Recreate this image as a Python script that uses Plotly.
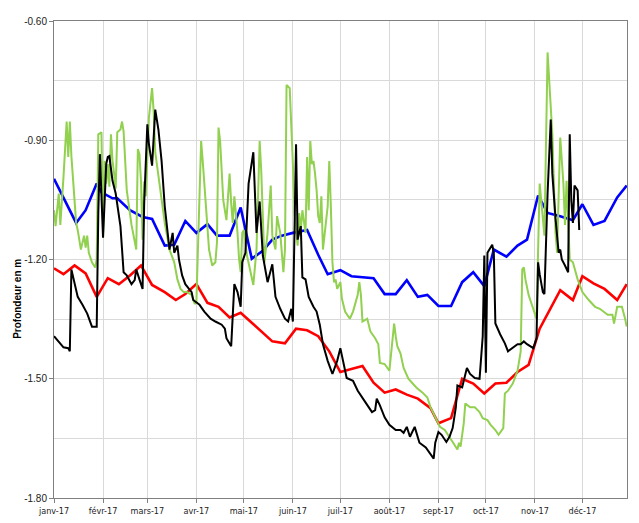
import pandas as pd
import plotly.graph_objects as go

BASE = pd.Timestamp("2017-01-01")

month_ticks = pd.date_range("2017-01-01", "2017-12-01", freq="MS")
month_labels = ["janv-17", "févr-17", "mars-17", "avr-17", "mai-17", "juin-17",
                "juil-17", "août-17", "sept-17", "oct-17", "nov-17", "déc-17"]

y_ticks = [-1.80, -1.50, -1.20, -0.90, -0.60]
y_tick_labels = ["-1.80", "-1.50", "-1.20", "-0.90", "-0.60"]
y_minor = [-1.65, -1.35, -1.05, -0.75]

# days since 1 Jan 2017, depth in m
blue_days = [0, 14, 20, 27, 30, 37, 40, 48, 56, 62, 70, 76, 83, 90, 97, 103, 111, 118, 125, 132,
             138, 144, 151, 160, 167, 173, 181, 188, 202, 209, 216, 223, 230, 236, 243, 251, 258,
             265, 272, 278, 286, 293, 299, 306, 312, 320, 328, 334, 341, 348, 356, 362]
blue_depth = [-0.997, -1.108, -1.076, -1.009, -1.031, -1.046, -1.046, -1.076, -1.093, -1.098,
              -1.165, -1.163, -1.103, -1.133, -1.111, -1.140, -1.140, -1.069, -1.198, -1.178,
              -1.150, -1.140, -1.133, -1.126, -1.188, -1.237, -1.227, -1.242, -1.247, -1.287,
              -1.287, -1.252, -1.294, -1.289, -1.317, -1.317, -1.257, -1.232, -1.267, -1.175,
              -1.193, -1.165, -1.150, -1.039, -1.083, -1.091, -1.101, -1.061, -1.113, -1.103,
              -1.044, -1.014]

red_days = [0, 6, 13, 20, 27, 34, 41, 48, 55, 62, 70, 77, 83, 90, 97, 104, 111, 118, 125, 138,
            146, 153, 160, 167, 174, 181, 195, 202, 209, 216, 223, 230, 238, 243, 251, 258, 265,
            272, 279, 286, 293, 300, 307, 320, 328, 334, 341, 348, 356, 362]
red_depth = [-1.222, -1.237, -1.215, -1.235, -1.294, -1.247, -1.262, -1.240, -1.215, -1.264,
             -1.282, -1.302, -1.287, -1.262, -1.309, -1.319, -1.346, -1.334, -1.359, -1.406,
             -1.411, -1.374, -1.378, -1.393, -1.431, -1.483, -1.468, -1.510, -1.535, -1.527,
             -1.540, -1.550, -1.574, -1.612, -1.599, -1.500, -1.512, -1.537, -1.512, -1.510,
             -1.483, -1.465, -1.374, -1.277, -1.302, -1.242, -1.260, -1.274, -1.302, -1.262]

black_days = [0, 3, 4, 6, 9, 10, 11, 13, 15, 18,
              21, 24, 27, 28, 29, 31, 33, 34, 35, 37,
              39, 42, 44, 46, 49, 51, 52, 54, 56, 57,
              59, 60, 62, 64, 66, 68, 70, 73, 75, 76,
              78, 79, 81, 83, 87, 88, 92, 95, 99, 102,
              106, 108, 109, 112, 114, 116, 118, 119, 121, 123,
              126, 128, 130, 132, 135, 138, 140, 143, 146, 148,
              150, 151, 153, 154, 156, 157, 159, 161, 164, 166,
              168, 170, 173, 176, 179, 181, 183, 185, 189, 192,
              197, 201, 203, 204, 206, 209, 212, 216, 219, 221,
              223, 225, 228, 231, 235, 238, 240, 241, 243, 245,
              248, 250, 252, 254, 255, 258, 261, 263, 266, 269,
              271, 272, 273, 274, 277, 278, 279, 282, 285, 287,
              290, 293, 295, 297, 299, 301, 303, 305, 306, 307,
              309, 310, 312, 314, 315, 317, 319, 320, 321, 323,
              325, 326, 327, 328, 329, 331, 332]
black_depth = [-1.393, -1.406, -1.413, -1.421, -1.423, -1.431, -1.225, -1.257, -1.294, -1.314,
               -1.336, -1.369, -1.369, -1.083, -0.935, -1.145, -0.960, -0.942, -0.940, -1.002,
               -1.034, -1.116, -1.232, -1.240, -1.262, -1.252, -1.225, -1.250, -1.274, -1.059,
               -0.860, -0.910, -0.964, -0.823, -0.873, -0.952, -1.066, -1.175, -1.133, -1.183,
               -1.165, -1.200, -1.240, -1.262, -1.282, -1.302, -1.314, -1.331, -1.349, -1.356,
               -1.364, -1.374, -1.398, -1.418, -1.262, -1.282, -1.319, -1.207, -1.183, -1.009,
               -0.930, -1.133, -1.054, -1.190, -1.257, -1.212, -1.294, -1.324, -1.349, -1.356,
               -1.324, -1.356, -0.910, -1.150, -1.116, -1.245, -1.250, -1.294, -1.319, -1.331,
               -1.364, -1.413, -1.455, -1.488, -1.455, -1.423, -1.463, -1.498, -1.505, -1.530,
               -1.560, -1.584, -1.579, -1.550, -1.567, -1.597, -1.616, -1.629, -1.629, -1.636,
               -1.621, -1.646, -1.621, -1.661, -1.673, -1.691, -1.701, -1.661, -1.634, -1.641,
               -1.659, -1.646, -1.624, -1.572, -1.517, -1.522, -1.473, -1.488, -1.498, -1.500,
               -1.393, -1.190, -1.485, -1.183, -1.163, -1.183, -1.361, -1.388, -1.411, -1.431,
               -1.423, -1.413, -1.413, -1.406, -1.413, -1.418, -1.423, -1.398, -1.207, -1.237,
               -1.282, -1.287, -1.034, -0.848, -0.984, -1.096, -1.183, -1.175, -1.200, -1.215,
               -1.232, -0.885, -1.051, -1.108, -1.014, -1.026, -1.126]

green_days = [0, 1, 3, 4, 6, 8, 9, 10, 11, 13,
              14, 15, 17, 19, 20, 21, 22, 24, 26, 27,
              28, 30, 31, 32, 33, 34, 35, 36, 37, 38,
              39, 40, 42, 43, 44, 46, 47, 49, 52, 53,
              54, 55, 56, 57, 58, 59, 60, 62, 63, 64,
              66, 68, 70, 73, 76, 78, 80, 82, 84, 87,
              89, 90, 93, 94, 96, 98, 100, 102, 103, 104,
              105, 106, 107, 109, 111, 112, 113, 114, 115, 116,
              117, 118, 119, 120, 122, 125, 126, 128, 130, 131,
              133, 135, 137, 138, 140, 141, 143, 145, 146, 147,
              149, 151, 152, 154, 155, 156, 157, 159, 160, 161,
              162, 163, 164, 165, 166, 167, 168, 169, 170, 173,
              174, 175, 176, 177, 178, 179, 181, 182, 184, 187,
              189, 192, 193, 194, 195, 198, 200, 203, 205, 206,
              209, 212, 214, 215, 216, 217, 219, 221, 224, 229,
              233, 236, 238, 241, 244, 247, 250, 252, 255, 256,
              257, 259, 260, 263, 266, 269, 271, 274, 276, 279,
              281, 284, 285, 287, 290, 293, 295, 296, 297, 298,
              300, 304, 305, 307, 310, 312, 315, 317, 318, 320,
              322, 323, 324, 326, 328, 331, 334, 338, 342, 345,
              350, 353, 354, 356, 359, 361, 362]
green_depth = [-1.076, -1.116, -1.034, -1.113, -0.992, -0.853, -0.942, -0.853, -0.940, -1.059,
               -1.108, -1.126, -1.175, -1.140, -1.170, -1.140, -1.183, -1.207, -1.220, -1.200,
               -0.885, -0.880, -1.133, -0.952, -1.009, -0.960, -1.017, -0.885, -0.952, -0.984,
               -1.021, -0.880, -0.873, -0.853, -0.878, -1.026, -1.051, -1.113, -1.175, -0.922,
               -0.935, -1.004, -1.150, -1.004, -1.041, -0.935, -0.843, -0.769, -0.828, -0.930,
               -0.992, -1.051, -1.108, -1.175, -1.207, -1.250, -1.274, -1.282, -1.282, -1.289,
               -1.312, -1.307, -0.902, -0.952, -1.076, -1.175, -1.215, -1.207, -1.158, -0.868,
               -0.902, -0.992, -1.051, -1.101, -0.984, -1.059, -1.108, -1.041, -1.083, -1.133,
               -1.200, -1.232, -1.133, -1.126, -1.190, -1.250, -1.264, -1.175, -0.902, -0.977,
               -1.207, -1.133, -1.014, -1.140, -1.175, -1.091, -1.133, -1.232, -1.175, -0.761,
               -0.769, -0.960, -1.083, -1.165, -1.083, -1.126, -1.076, -1.133, -0.942, -1.076,
               -0.902, -0.960, -0.952, -0.984, -1.026, -1.091, -1.108, -1.041, -1.175, -1.066,
               -0.952, -1.066, -1.207, -1.257, -1.250, -1.274, -1.257, -1.299, -1.331, -1.349,
               -1.331, -1.289, -1.257, -1.289, -1.356, -1.349, -1.381, -1.398, -1.413, -1.460,
               -1.463, -1.480, -1.406, -1.361, -1.393, -1.418, -1.436, -1.473, -1.500, -1.522,
               -1.535, -1.547, -1.572, -1.597, -1.621, -1.629, -1.649, -1.659, -1.678, -1.661,
               -1.671, -1.612, -1.562, -1.572, -1.572, -1.584, -1.599, -1.604, -1.616, -1.629,
               -1.641, -1.624, -1.537, -1.530, -1.512, -1.480, -1.431, -1.225, -1.220, -1.250,
               -1.289, -1.339, -1.349, -1.009, -1.140, -0.679, -0.885, -1.133, -1.183, -0.893,
               -1.009, -1.113, -1.002, -1.200, -1.207, -1.250, -1.282, -1.302, -1.319, -1.324,
               -1.339, -1.339, -1.361, -1.319, -1.319, -1.349, -1.369]


def to_dates(days):
    return BASE + pd.to_timedelta(days, unit="D")


fig = go.Figure()
series = [
    (blue_days, blue_depth, "#0000FF", 2.6),
    (red_days, red_depth, "#FF0000", 2.6),
    (green_days, green_depth, "#92D050", 2.0),
    (black_days, black_depth, "#000000", 2.0),
]
for d, v, c, w in series:
    fig.add_trace(go.Scatter(x=to_dates(d), y=v, mode="lines",
                             line=dict(color=c, width=w), showlegend=False,
                             hoverinfo="skip"))

axis_font = "Liberation Sans, Arial, sans-serif"
# the page body keeps its default 8px margin, so the figure is 8px smaller
fig.update_layout(
    width=631, height=515,
    margin=dict(l=46, r=12, t=7, b=24),
    paper_bgcolor="white", plot_bgcolor="white",
    xaxis=dict(
        type="date",
        range=["2017-01-01", "2017-12-29 04:48"],
        tickmode="array", tickvals=month_ticks, ticktext=month_labels,
        showgrid=True, gridcolor="#d9d9d9", gridwidth=1,
        ticks="outside", ticklen=4, tickcolor="#808080",
        showline=True, linecolor="#808080", linewidth=1, mirror=True,
        tickfont=dict(family="Liberation Sans Narrow, DejaVu Sans Condensed, Arial Narrow, sans-serif",
                      size=9, color="#222222"),
        zeroline=False,
    ),
    yaxis=dict(
        range=[-1.80, -0.60],
        tickmode="array", tickvals=y_ticks, ticktext=y_tick_labels,
        showgrid=True, gridcolor="#d9d9d9", gridwidth=1,
        minor=dict(tickmode="array", tickvals=y_minor, showgrid=True,
                   gridcolor="#d9d9d9", gridwidth=1, ticks=""),
        ticks="outside", ticklen=4, tickcolor="#808080",
        showline=True, linecolor="#808080", linewidth=1, mirror=True,
        tickfont=dict(family=axis_font, size=10, color="#222222"),
        zeroline=False,
    ),
    annotations=[dict(
        text="<b>Profondeur en m</b>", textangle=-90,
        xref="paper", yref="paper", x=-0.065, y=0.417,
        xanchor="center", yanchor="middle", showarrow=False,
        font=dict(family=axis_font, size=10, color="#000000"),
    )],
)

fig.write_html("out.html")
